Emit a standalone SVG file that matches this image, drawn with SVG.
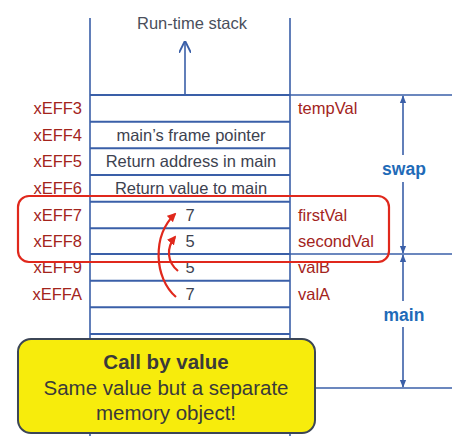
<svg xmlns="http://www.w3.org/2000/svg" width="452" height="436" viewBox="0 0 452 436">
<defs>
<style>
.ln{stroke:#3a5fa8;stroke-width:1.6;fill:none}
.row{stroke:#3a5fa8;stroke-width:2;fill:none}
.addr{font-family:"Liberation Sans",Arial,sans-serif;font-size:16.5px;fill:#a3241c;text-anchor:end}
.var{font-family:"Liberation Sans",Arial,sans-serif;font-size:16.5px;fill:#a3241c}
.cell{font-family:"Liberation Sans",Arial,sans-serif;font-size:16.5px;fill:#3d4250;text-anchor:middle}
.frame{font-family:"Liberation Sans",Arial,sans-serif;font-size:17.5px;font-weight:bold;fill:#1f6bb8;text-anchor:middle}
.note{font-family:"Liberation Sans",Arial,sans-serif;font-size:20.5px;fill:#3a3a3a;text-anchor:middle}
.red{stroke:#e0281c;stroke-width:2.2;fill:none}
</style>
<marker id="ba" viewBox="0 0 10 10" refX="9" refY="5" markerWidth="8" markerHeight="8" orient="auto-start-reverse" markerUnits="userSpaceOnUse">
<path d="M0,1 L10,5 L0,9 z" fill="#3a5fa8"/>
</marker>
<marker id="oa" viewBox="0 0 10 10" refX="9" refY="5" markerWidth="12" markerHeight="12" orient="auto" markerUnits="userSpaceOnUse">
<path d="M0,0 L10,5 L0,10" fill="none" stroke="#3a5fa8" stroke-width="1.6"/>
</marker>
<marker id="ra" viewBox="0 0 10 10" refX="8" refY="5" markerWidth="9" markerHeight="9" orient="auto" markerUnits="userSpaceOnUse">
<path d="M0,0 L10,5 L0,10 z" fill="#e0281c"/>
</marker>
</defs>
<rect width="452" height="436" fill="#ffffff"/>
<g id="stack">
<line class="ln" x1="90" y1="18" x2="90" y2="436"/>
<line class="ln" x1="290" y1="18" x2="290" y2="436"/>
<text x="192" y="29" font-family="Liberation Sans, Arial, sans-serif" font-size="16.5" fill="#4a4f5c" text-anchor="middle">Run-time stack</text>
<line class="ln" x1="185" y1="95" x2="185" y2="42" marker-end="url(#oa)"/>
<line class="row" x1="90" y1="95" x2="290" y2="95"/>
<line class="row" x1="90" y1="121.7" x2="290" y2="121.7"/>
<line class="row" x1="90" y1="148.3" x2="290" y2="148.3"/>
<line class="row" x1="90" y1="175" x2="290" y2="175"/>
<line class="row" x1="90" y1="201.7" x2="290" y2="201.7"/>
<line class="row" x1="90" y1="228.3" x2="290" y2="228.3"/>
<line class="row" x1="90" y1="254" x2="290" y2="254"/>
<line class="row" x1="90" y1="280.7" x2="290" y2="280.7"/>
<line class="row" x1="90" y1="307.3" x2="290" y2="307.3"/>
<line class="row" x1="90" y1="334" x2="290" y2="334"/>
</g>
<g id="addresses">
<text class="addr" x="82" y="114">xEFF3</text>
<text class="addr" x="82" y="141">xEFF4</text>
<text class="addr" x="82" y="167">xEFF5</text>
<text class="addr" x="82" y="194">xEFF6</text>
<text class="addr" x="82" y="221">xEFF7</text>
<text class="addr" x="82" y="247">xEFF8</text>
<text class="addr" x="82" y="273">xEFF9</text>
<text class="addr" x="82" y="300">xEFFA</text>
</g>
<g id="cells">
<text class="cell" x="191" y="141">main’s frame pointer</text>
<text class="cell" x="191" y="167">Return address in main</text>
<text class="cell" x="191" y="194">Return value to main</text>
<text class="cell" x="190" y="221">7</text>
<text class="cell" x="190" y="247">5</text>
<text class="cell" x="190" y="273">5</text>
<text class="cell" x="190" y="300">7</text>
</g>
<g id="names">
<text class="var" x="298" y="114">tempVal</text>
<text class="var" x="298" y="221">firstVal</text>
<text class="var" x="298" y="247">secondVal</text>
<text class="var" x="298" y="273">valB</text>
<text class="var" x="298" y="300">valA</text>
</g>
<g id="frames">
<line class="ln" x1="290" y1="95" x2="452" y2="95"/>
<line class="ln" x1="290" y1="254" x2="452" y2="254"/>
<line class="ln" x1="315" y1="388" x2="452" y2="388"/>
<line class="ln" x1="403" y1="155" x2="403" y2="96" marker-end="url(#ba)"/>
<line class="ln" x1="403" y1="182" x2="403" y2="253" marker-end="url(#ba)"/>
<text class="frame" x="404" y="175">swap</text>
<line class="ln" x1="403" y1="301" x2="403" y2="255" marker-end="url(#ba)"/>
<line class="ln" x1="403" y1="327" x2="403" y2="387" marker-end="url(#ba)"/>
<text class="frame" x="404" y="321">main</text>
</g>
<g id="highlight">
<rect x="18" y="196" width="371" height="66" rx="11" ry="11" class="red"/>
</g>
<g id="connectors">
<path class="red" d="M176,297 C154,278 152,236 175,214" marker-end="url(#ra)"/>
<path class="red" d="M178,271 C167,262 166,248 175,237" marker-end="url(#ra)"/>
</g>
<g id="callout">
<rect x="18" y="339" width="297" height="94" rx="13" ry="13" fill="#f7ec0c" stroke="#3c4656" stroke-width="2"/>
<text class="note" x="166" y="369" font-weight="bold">Call by value</text>
<text class="note" x="166" y="395">Same value but a separate</text>
<text class="note" x="166" y="420">memory object!</text>
</g>
</svg>
